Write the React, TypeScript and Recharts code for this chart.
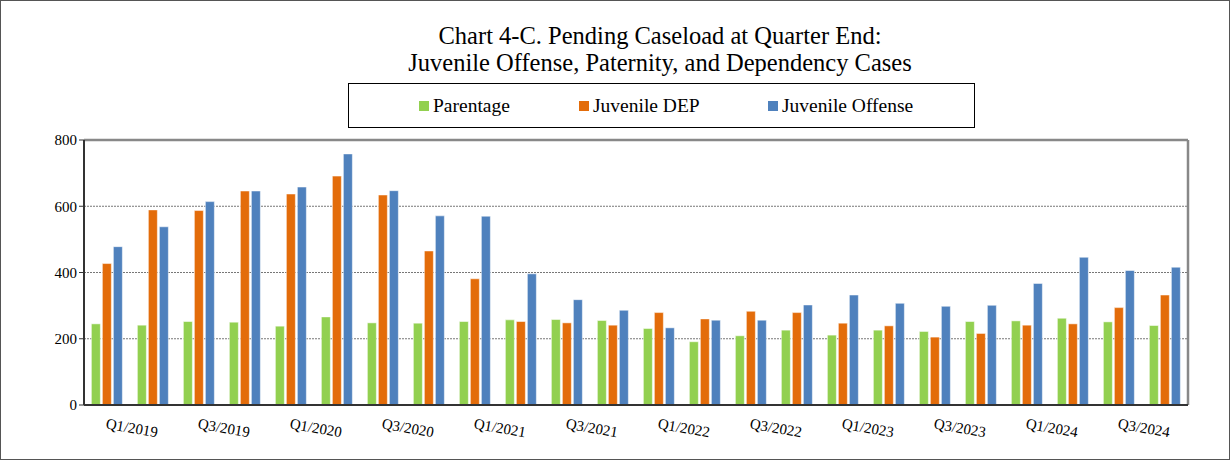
import { BarChart, Bar, XAxis, YAxis, CartesianGrid, ReferenceLine } from "recharts";

const quarters = [
  "Q1/2019", "Q2/2019", "Q3/2019", "Q4/2019",
  "Q1/2020", "Q2/2020", "Q3/2020", "Q4/2020",
  "Q1/2021", "Q2/2021", "Q3/2021", "Q4/2021",
  "Q1/2022", "Q2/2022", "Q3/2022", "Q4/2022",
  "Q1/2023", "Q2/2023", "Q3/2023", "Q4/2023",
  "Q1/2024", "Q2/2024", "Q3/2024", "Q4/2024",
];

const parentage = [
  245, 241, 252, 250, 238, 266, 248, 247,
  252, 257, 258, 255, 231, 191, 209, 226,
  211, 226, 222, 252, 254, 262, 251, 240,
];

const juvenileDep = [
  427, 589, 587, 646, 637, 691, 634, 465,
  381, 252, 248, 241, 279, 260, 283, 279,
  247, 239, 205, 216, 241, 245, 294, 332,
];

const juvenileOffense = [
  478, 538, 614, 646, 658, 758, 647, 571,
  570, 396, 318, 286, 233, 256, 256, 302,
  332, 307, 298, 301, 367, 446, 406, 416,
];

const yTicks = [0, 200, 400, 600, 800];

const series = [
  { key: "parentage", name: "Parentage", color: "#92D050" },
  { key: "juvenileDep", name: "Juvenile DEP", color: "#E36C0A" },
  { key: "juvenileOffense", name: "Juvenile Offense", color: "#4F81BD" },
];

const data = quarters.map((q, i) => ({
  quarter: q,
  parentage: parentage[i],
  juvenileDep: juvenileDep[i],
  juvenileOffense: juvenileOffense[i],
}));

const serif = "'Liberation Serif', 'Times New Roman', serif";

function QuarterTick({ x, y, payload }: any) {
  const ty = y + 5;
  return (
    <text
      x={x}
      y={ty}
      transform={`rotate(10, ${x}, ${ty})`}
      textAnchor="start"
      dominantBaseline="hanging"
      fontFamily={serif}
      fontSize={15}
      fill="#000"
    >
      {payload.value}
    </text>
  );
}

export default function App() {
  return (
    <div
      style={{
        position: "absolute",
        left: 0,
        top: 0,
        width: 1230,
        height: 460,
        boxSizing: "border-box",
        border: "1px solid #555",
        background: "#fff",
        fontFamily: serif,
      }}
    >
      {/* Title */}
      <div
        style={{
          position: "absolute",
          left: 359,
          width: 600,
          top: 21,
          textAlign: "center",
          fontSize: 24.5,
          lineHeight: "27px",
          color: "#000",
          whiteSpace: "nowrap",
        }}
      >
        Chart 4-C. Pending Caseload at Quarter End:
        <br />
        Juvenile Offense, Paternity, and Dependency Cases
      </div>

      {/* Legend */}
      <div
        style={{
          position: "absolute",
          left: 347,
          top: 82,
          width: 627,
          height: 45,
          boxSizing: "border-box",
          border: "1px solid #000",
          fontSize: 19.5,
        }}
      >
        {series.map((s, i) => (
          <div
            key={s.key}
            style={{
              position: "absolute",
              left: [70, 230, 419][i],
              top: 0,
              height: 43,
              display: "flex",
              alignItems: "center",
            }}
          >
            <span
              style={{ width: 10, height: 10, background: s.color, marginRight: 4, display: "inline-block" }}
            />
            <span>{s.name}</span>
          </div>
        ))}
      </div>

      <div style={{ position: "absolute", left: -1, top: -1 }}>
        <BarChart
          width={1230}
          height={460}
          data={data}
          margin={{ top: 140, right: 42, bottom: 0, left: 0 }}
          barCategoryGap="16%"
          barGap={2}
        >
          <CartesianGrid vertical={false} stroke="#777" strokeDasharray="2 1" />
          <CartesianGrid
            horizontal={false}
            stroke="#888"
            strokeWidth={2.5}
            verticalCoordinatesGenerator={({ offset }: any) => [offset.left + offset.width]}
          />
          <XAxis
            dataKey="quarter"
            interval={1}
            tickLine={false}
            axisLine={{ stroke: "#333", strokeWidth: 2 }}
            tick={<QuarterTick />}
            height={55}
          />
          <YAxis
            domain={[0, 800]}
            ticks={yTicks}
            width={84}
            tickSize={5}
            tickLine={{ stroke: "#333" }}
            axisLine={{ stroke: "#333", strokeWidth: 2 }}
            tick={{ fontFamily: serif, fontSize: 15, fill: "#000" }}
          />
          <ReferenceLine y={800} stroke="#888" strokeWidth={2.5} />
          {series.map((s) => (
            <Bar
              key={s.key}
              dataKey={s.key}
              name={s.name}
              fill={s.color}
              stroke="#ffffff"
              strokeOpacity={0.5}
              strokeWidth={1}
              isAnimationActive={false}
            />
          ))}
        </BarChart>
      </div>
    </div>
  );
}
